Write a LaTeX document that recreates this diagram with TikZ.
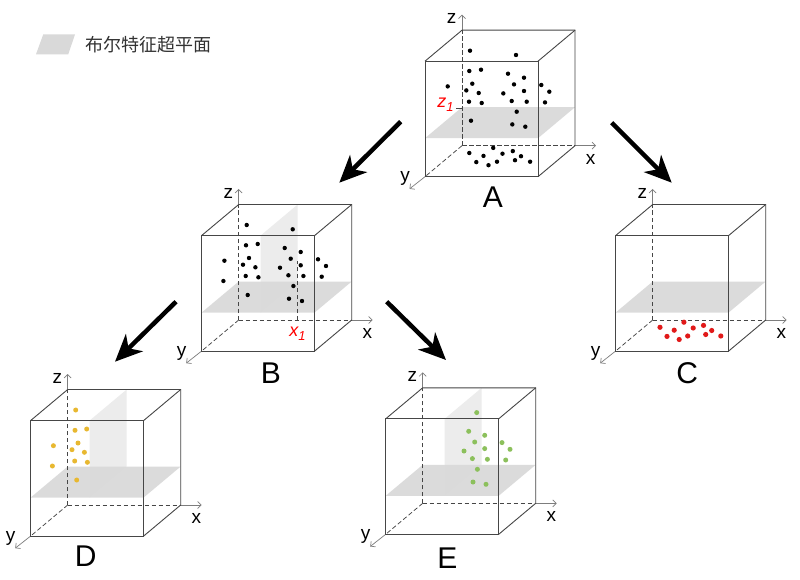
\documentclass[tikz,border=0pt]{standalone}
\usepackage{fontspec}
\setmainfont{Liberation Sans}
\newfontfamily\cjkfont{Noto Sans CJK SC}
\usetikzlibrary{arrows.meta}
\definecolor{planeH}{RGB}{217,217,217}
\definecolor{planeV}{RGB}{236,236,236}
\definecolor{dotred}{RGB}{225,25,25}
\definecolor{dotyellow}{RGB}{232,184,48}
\definecolor{dotgreen}{RGB}{140,192,92}
\definecolor{edgegray}{RGB}{70,70,70}
\definecolor{axisgray}{RGB}{125,125,125}
\definecolor{legendtext}{RGB}{50,50,50}
\tikzset{
  cubeedge/.style={draw=edgegray, line width=0.9pt},
  hiddenedge/.style={draw=edgegray, line width=0.75pt, dash pattern=on 4.5pt off 2.5pt},
  axisext/.style={draw=axisgray, line width=0.7pt, -{Straight Barb[length=3.5pt,width=7pt]}},
  axlabel/.style={font=\fontsize{19}{19}\selectfont, inner sep=0pt, text=black},
  cubelabel/.style={font=\fontsize{30}{30}\selectfont, inner sep=0pt, text=black},
  bigarrow/.style={line width=4.5pt, draw=black, -{Stealth[length=27pt,width=24pt,inset=8pt]}},
  redlab/.style={text=red, inner sep=0pt, font=\fontsize{18}{18}\selectfont\itshape},
  blackdot/.style={fill=black},
}
\newcommand\myhplane{\fill[planeH, fill opacity=0.92] (0,-38.5) -- (113,-38.5) -- (150,-69.5) -- (37,-69.5) -- cycle;}
\newcommand\myvplane{\fill[planeV] (59,-38.5) -- (96,-69.5) -- (96,-146.5) -- (59,-115.5) -- cycle;}
\newcommand\mycubeframe[1]{%
  \coordinate (#1-o) at (37,-31);
  \coordinate (#1-f) at (0,0);
  \coordinate (#1-zt) at (37,-146.5);
  \coordinate (#1-xt) at (150,-31);
  \draw[hiddenedge] (#1-o) -- (#1-zt);
  \draw[hiddenedge] (#1-o) -- (#1-xt);
  \draw[hiddenedge] (#1-o) -- (#1-f);
  \draw[axisext] (#1-zt) -- (37,-162);
  \draw[axisext] (#1-xt) -- (171,-31);
  \draw[axisext] (#1-f) -- (-15.5,12.2);
  \draw[cubeedge] (0,0) rectangle (113,-115.5);
  \draw[cubeedge] (0,-115.5) -- (37,-146.5) -- (150,-146.5) -- (150,-31) -- (113,0);
  \draw[cubeedge] (113,-115.5) -- (150,-146.5);
  \node[axlabel] (#1-zl) at (26.7,-158) {z};
  \node[axlabel] (#1-xl) at (165.7,-17.5) {x};
  \node[axlabel] (#1-yl) at (-20,2) {y};
}
\def\dotsleftA{(45,-126),(44.3,-105.7),(56,-107),(22.7,-90.3),(47.3,-93),(41.3,-86.3),(53.7,-83.7),(44,-75),(56.7,-73.7),(46,-56)}
\def\dotsleft{(45,-126),(44.3,-105.7),(56,-107),(22.7,-90.3),(47.3,-93),(41.3,-86.3),(53.7,-83.7),(44,-75),(56.7,-73.7),(21.7,-70),(46,-56)}
\def\dotsright{(91,-121.7),(83,-103),(99,-99),(89,-92.3),(99,-85.7),(78.3,-83.3),(116.3,-91.7),(124.3,-85),(120,-74.3),(86.7,-75.7),(101.7,-75),(91.7,-65),(87.3,-52.3),(100.3,-50)}
\def\dotsbottom{(44.3,-23.7),(68.2,-28.8),(58.5,-20.8),(77.5,-23),(87.8,-25.6),(96,-20.5),(51.3,-14.6),(63.5,-11.5),(72,-15),(90,-16.5),(105.1,-15)}
\begin{document}
\begin{tikzpicture}[x=1pt,y=-1pt]
\useasboundingbox (0,0) rectangle (800,580);
\fill[white] (0,0) rectangle (800,580);

% legend
\fill[planeH] (36,54.3) -- (43.3,34.3) -- (75,34.3) -- (68.3,54.3) -- cycle;
\node[anchor=west, inner sep=0pt, text=legendtext, font=\cjkfont\fontsize{18}{18}\selectfont] (legend) at (85,45) {布尔特征超平面};

% cube A
\begin{scope}[shift={(425,176.7)}]
  \myhplane
  \mycubeframe{A}
  \draw[edgegray, line width=0.7pt] (31,-68.8) -- (37,-68.8);
  \foreach \p in \dotsleftA {\fill[blackdot] \p circle[radius=2.2pt];}
  \foreach \p in \dotsright {\fill[blackdot] \p circle[radius=2.2pt];}
  \foreach \p in \dotsbottom {\fill[blackdot] \p circle[radius=2.2pt];}
  \node[redlab] (A-z1) at (20.5,-71.7) {z\raisebox{-0.45ex}{\fontsize{13}{13}\selectfont 1}};
\end{scope}
\node[cubelabel] (A) at (492.8,197) {A};

% cube B
\begin{scope}[shift={(201.7,351)}]
  \myvplane
  \myhplane
  \mycubeframe{B}
  \draw[hiddenedge] (96,-31) -- (96,-90);
  \foreach \p in \dotsleft {\fill[blackdot] \p circle[radius=2.2pt];}
  \foreach \p in \dotsright {\fill[blackdot] \p circle[radius=2.2pt];}
  \node[redlab] (B-x1) at (95.8,-17) {x\raisebox{-0.45ex}{\fontsize{13}{13}\selectfont 1}};
\end{scope}
\node[cubelabel] (B) at (271,373.3) {B};

% cube C
\begin{scope}[shift={(615.7,351)}]
  \myhplane
  \mycubeframe{C}
  \foreach \p in \dotsbottom {\fill[dotred] \p circle[radius=2.6pt];}
\end{scope}
\node[cubelabel] (C) at (687.3,373) {C};

% cube D
\begin{scope}[shift={(30.7,536)}]
  \myvplane
  \myhplane
  \mycubeframe{D}
  \foreach \p in \dotsleft {\fill[dotyellow] \p circle[radius=2.5pt];}
\end{scope}
\node[cubelabel] (D) at (85.7,555.7) {D};

% cube E
\begin{scope}[shift={(385.7,534.3)}]
  \myvplane
  \myhplane
  \mycubeframe{E}
  \foreach \p in \dotsright {\fill[dotgreen] \p circle[radius=2.5pt];}
\end{scope}
\node[cubelabel] (E) at (447.3,558.3) {E};

% big arrows
\coordinate (ab1) at (400.7,121.7);
\coordinate (ab2) at (339.3,182.7);
\coordinate (ac1) at (611.7,122.7);
\coordinate (ac2) at (671.7,182.7);
\coordinate (bd1) at (176,301.7);
\coordinate (bd2) at (115,361.7);
\coordinate (be1) at (386.7,301.7);
\coordinate (be2) at (446,360);
\draw[bigarrow] (ab1) -- (ab2);
\draw[bigarrow] (ac1) -- (ac2);
\draw[bigarrow] (bd1) -- (bd2);
\draw[bigarrow] (be1) -- (be2);
\end{tikzpicture}
\end{document}
